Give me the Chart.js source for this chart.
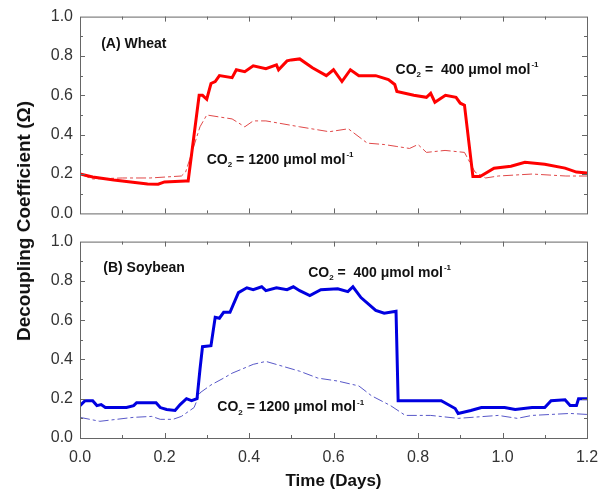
<!DOCTYPE html>
<html>
<head>
<meta charset="utf-8">
<script src="https://cdn.jsdelivr.net/npm/chart.js@4.4.1/dist/chart.umd.min.js"></script>
<style>
  body { margin: 0; background: #fff; }
  #wrap { position: relative; width: 598px; height: 497px; }
  canvas { position: absolute; left: 0; }
  #yTitle {
    position: absolute; left: 24px; top: 221px;
    transform: translate(-50%, -50%) rotate(-90deg);
    font: bold 19px 'Liberation Sans', Arial, sans-serif; color: #111; white-space: nowrap;
  }
</style>
</head>
<body>
<div id="wrap">
  <canvas id="wheat" width="598" height="230" style="top:0"></canvas>
  <canvas id="soy" width="598" height="272" style="top:225px"></canvas>
  <div id="yTitle">Decoupling Coefficient (Ω)</div>
</div>
<script>
// --- dati (giorni, coefficiente) ---
const wheatDays400 = [0, 0.03, 0.08, 0.12, 0.16, 0.185, 0.2, 0.25, 0.256, 0.282, 0.29, 0.3, 0.31, 0.32, 0.33, 0.36, 0.37, 0.39, 0.41, 0.44, 0.465, 0.47, 0.49, 0.5, 0.52, 0.55, 0.583, 0.6, 0.62, 0.64, 0.66, 0.7, 0.73, 0.745, 0.75, 0.79, 0.82, 0.83, 0.84, 0.865, 0.89, 0.9, 0.91, 0.93, 0.947, 0.98, 1.02, 1.053, 1.1, 1.148, 1.175, 1.2];
const wheat400 = [0.2, 0.185, 0.17, 0.16, 0.15, 0.148, 0.16, 0.165, 0.165, 0.6, 0.6, 0.58, 0.66, 0.67, 0.7, 0.69, 0.73, 0.72, 0.75, 0.735, 0.755, 0.73, 0.775, 0.78, 0.785, 0.74, 0.7, 0.73, 0.67, 0.73, 0.7, 0.7, 0.68, 0.655, 0.62, 0.6, 0.59, 0.61, 0.565, 0.6, 0.59, 0.56, 0.55, 0.187, 0.187, 0.23, 0.24, 0.26, 0.25, 0.23, 0.21, 0.205];

const wheatDays1200 = [0, 0.03, 0.1, 0.166, 0.24, 0.25, 0.284, 0.3, 0.33, 0.36, 0.39, 0.41, 0.44, 0.52, 0.59, 0.635, 0.68, 0.72, 0.75, 0.78, 0.8, 0.82, 0.864, 0.91, 0.935, 0.96, 0.99, 1.07, 1.15, 1.2];
const wheat1200 = [0.2, 0.175, 0.18, 0.18, 0.19, 0.21, 0.44, 0.5, 0.49, 0.48, 0.44, 0.47, 0.47, 0.44, 0.415, 0.43, 0.357, 0.35, 0.34, 0.33, 0.35, 0.31, 0.32, 0.31, 0.21, 0.18, 0.19, 0.2, 0.19, 0.19];

const soyDays400 = [0, 0.012, 0.03, 0.04, 0.05, 0.06, 0.11, 0.127, 0.134, 0.18, 0.19, 0.205, 0.225, 0.237, 0.252, 0.264, 0.277, 0.284, 0.29, 0.31, 0.32, 0.33, 0.34, 0.355, 0.375, 0.395, 0.41, 0.43, 0.44, 0.465, 0.49, 0.505, 0.52, 0.544, 0.57, 0.61, 0.634, 0.646, 0.665, 0.7, 0.72, 0.748, 0.753, 0.855, 0.888, 0.895, 0.925, 0.95, 1.005, 1.03, 1.07, 1.1, 1.115, 1.148, 1.16, 1.175, 1.18, 1.2];
const soy400 = [0.165, 0.19, 0.19, 0.165, 0.17, 0.155, 0.155, 0.165, 0.18, 0.18, 0.155, 0.145, 0.14, 0.17, 0.2, 0.19, 0.2, 0.35, 0.465, 0.47, 0.615, 0.61, 0.64, 0.64, 0.74, 0.765, 0.755, 0.77, 0.75, 0.765, 0.755, 0.77, 0.75, 0.725, 0.755, 0.76, 0.745, 0.77, 0.715, 0.65, 0.635, 0.645, 0.19, 0.19, 0.15, 0.125, 0.14, 0.155, 0.155, 0.145, 0.155, 0.155, 0.19, 0.195, 0.165, 0.165, 0.2, 0.2];

const soyDays1200 = [0, 0.047, 0.126, 0.17, 0.19, 0.22, 0.24, 0.27, 0.284, 0.31, 0.34, 0.36, 0.41, 0.44, 0.48, 0.52, 0.563, 0.61, 0.66, 0.69, 0.735, 0.77, 0.83, 0.895, 0.99, 1.035, 1.07, 1.16, 1.2];
const soy1200 = [0.105, 0.085, 0.105, 0.11, 0.095, 0.095, 0.11, 0.155, 0.23, 0.27, 0.305, 0.33, 0.375, 0.39, 0.365, 0.34, 0.305, 0.29, 0.265, 0.215, 0.165, 0.115, 0.115, 0.1, 0.115, 0.1, 0.115, 0.125, 0.12];

const xTickValues = [0, 0.2, 0.4, 0.6, 0.8, 1.0, 1.2];
const yTickValues = [0, 0.2, 0.4, 0.6, 0.8, 1.0];

const FONT = "'Liberation Sans', Arial, sans-serif";
const toPts = (xs, ys) => xs.map((x, i) => ({ x: x, y: ys[i] }));

// cornice + tacche verso l'interno su tutti e quattro i lati
const frameTicks = {
  id: 'frameTicks',
  afterDraw(chart) {
    const { ctx, chartArea: a, scales: { x, y } } = chart;
    ctx.save();
    ctx.strokeStyle = '#666';
    ctx.lineWidth = 1;
    ctx.strokeRect(a.left + 0.5, a.top + 0.5, a.right - a.left, a.bottom - a.top);
    ctx.beginPath();
    for (let i = 1; i < 12; i++) {
      const px = Math.round(x.getPixelForValue(i / 10)) + 0.5;
      const len = i % 2 ? 3 : 5;
      ctx.moveTo(px, a.bottom); ctx.lineTo(px, a.bottom - len);
      ctx.moveTo(px, a.top); ctx.lineTo(px, a.top + len);
    }
    for (let i = 1; i < 10; i++) {
      const py = Math.round(y.getPixelForValue(i / 10)) + 0.5;
      const len = i % 2 ? 3 : 5;
      ctx.moveTo(a.left, py); ctx.lineTo(a.left + len, py);
      ctx.moveTo(a.right, py); ctx.lineTo(a.right - len, py);
    }
    ctx.stroke();
    ctx.restore();
  }
};

// scritta CO2 = ... umol mol-1 con pedici/apici
function drawCO2(ctx, x, y, conc, eq) {
  ctx.font = 'bold 14px ' + FONT;
  ctx.textBaseline = 'middle';
  ctx.textAlign = 'left';
  ctx.fillStyle = '#111';
  let cx = x;
  ctx.fillText('CO', cx, y); cx += ctx.measureText('CO').width;
  ctx.font = 'bold 8px ' + FONT;
  ctx.fillText('2', cx, y + 5); cx += ctx.measureText('2').width;
  ctx.font = 'bold 14px ' + FONT;
  const mid = eq + conc + ' μmol mol';
  ctx.fillText(mid, cx, y); cx += ctx.measureText(mid).width;
  ctx.font = 'bold 8px ' + FONT;
  ctx.fillText('-1', cx + 1, y - 5);
}

const labelsPlugin = {
  id: 'labels',
  afterDraw(chart) {
    const { ctx, scales: { x, y } } = chart;
    const lab = chart.options.plugins.labels;
    ctx.save();
    ctx.font = 'bold 14px ' + FONT;
    ctx.fillStyle = '#111';
    ctx.textBaseline = 'middle';
    ctx.fillText(lab.title[0], x.getPixelForValue(lab.title[1]), y.getPixelForValue(lab.title[2]));
    lab.co2.forEach(c => drawCO2(ctx, x.getPixelForValue(c[1]), y.getPixelForValue(c[2]), c[0], c[3]));
    ctx.restore();
  }
};

function makeChart(id, solid, dashed, solidColor, dashColor, labels, isBottom) {
  new Chart(document.getElementById(id), {
    type: 'line',
    data: {
      datasets: [
        { data: solid, borderColor: solidColor, borderWidth: 3, pointRadius: 0, tension: 0 },
        { data: dashed, borderColor: dashColor, borderWidth: 1, borderDash: [10, 3, 3, 3], pointRadius: 0, tension: 0 }
      ]
    },
    options: {
      responsive: false,
      animation: false,
      layout: { padding: { top: isBottom ? 13 : 15, right: 11, left: 0, bottom: 0 } },
      plugins: { legend: { display: false }, tooltip: { enabled: false }, labels: labels },
      scales: {
        x: {
          type: 'linear', min: 0, max: 1.2,
          afterBuildTicks: s => { s.ticks = xTickValues.map(v => ({ value: v })); },
          afterFit: s => { s.height = isBottom ? 59 : 12; s.paddingLeft = 0; s.paddingRight = 0; },
          grid: { display: false, drawTicks: false, tickLength: 0 }, border: { display: false },
          ticks: {
            display: isBottom, padding: 10, color: '#333',
            font: { family: FONT, size: 16 },
            callback: v => v.toFixed(1)
          },
          title: {
            display: isBottom, text: 'Time (Days)', color: '#111',
            font: { family: FONT, size: 17, weight: 'bold' },
            padding: { top: 6, bottom: 5 }
          }
        },
        y: {
          min: 0, max: 1,
          afterBuildTicks: s => { s.ticks = yTickValues.map(v => ({ value: v })); },
          afterFit: s => { s.width = 80; },
          grid: { display: false, drawTicks: false, tickLength: 0 }, border: { display: false },
          ticks: {
            padding: 7, color: '#333',
            font: { family: FONT, size: 16 },
            callback: v => v.toFixed(1)
          }
        }
      }
    },
    plugins: [frameTicks, labelsPlugin]
  });
}

makeChart('wheat', toPts(wheatDays400, wheat400), toPts(wheatDays1200, wheat1200),
  '#ff0000', '#e04848',
  { title: ['(A) Wheat', 0.05, 0.86], co2: [[400, 0.747, 0.73, ' =  '], [1200, 0.30, 0.27, ' = ']] }, false);

makeChart('soy', toPts(soyDays400, soy400), toPts(soyDays1200, soy1200),
  '#0000e0', '#5858c8',
  { title: ['(B) Soybean', 0.055, 0.865], co2: [[400, 0.54, 0.84, ' =  '], [1200, 0.325, 0.155, ' = ']] }, true);
</script>
</body>
</html>
